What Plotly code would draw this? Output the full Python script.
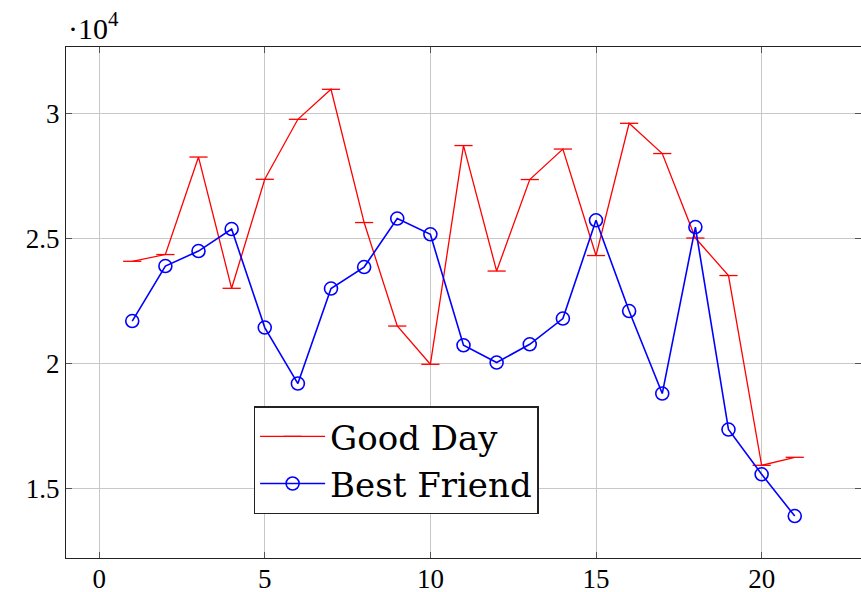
import plotly.graph_objects as go

x_vals = list(range(1, 22))
good_day = [24100, 24370, 28270, 23020, 27380, 29780, 30980, 25650, 21510, 19980,
            28730, 23710, 27370, 28590, 24330, 29620, 28410, 25030, 23530, 15940, 16260]
best_friend = [21710, 23910, 24510, 25390, 21450, 19210, 23010, 23870, 25810, 25180,
               20740, 20050, 20780, 21810, 25740, 22110, 18810, 25470, 17370, 15580, 13910]

x_ticks = [0, 5, 10, 15, 20]
y_ticks = [15000, 20000, 25000, 30000]
y_tick_text = ["1.5", "2", "2.5", "3"]

FONT = "Liberation Serif"

fig = go.Figure()
fig.add_trace(go.Scatter(
    x=x_vals, y=good_day, name="Good Day", mode="lines+markers",
    line=dict(color="#ff0000", width=1.3),
    marker=dict(symbol="line-ew", size=13, line=dict(color="#ff0000", width=1.3)),
))
fig.add_trace(go.Scatter(
    x=x_vals, y=best_friend, name="Best Friend", mode="lines+markers",
    line=dict(color="#0000ff", width=1.6),
    marker=dict(symbol="circle-open", size=13, color="#0000ff",
                line=dict(color="#0000ff", width=1.6)),
))

fig.update_layout(
    width=861, height=592,
    margin=dict(l=66.4, r=0, t=46.7, b=34.3, autoexpand=False),
    paper_bgcolor="white", plot_bgcolor="white",
    font=dict(family=FONT, size=27, color="black"),
    showlegend=True,
    legend=dict(
        x=0.236, y=0.297, xanchor="left", yanchor="top",
        bgcolor="white", bordercolor="#222222", borderwidth=1.5,
        font=dict(family="DejaVu Serif", size=34, color="black"),
        itemwidth=65, tracegroupgap=0,
    ),
    xaxis=dict(
        range=[-1, 23], tickvals=x_ticks, ticks="inside", ticklen=6,
        tickcolor="#555555", showgrid=True, gridcolor="#c8c8c8", gridwidth=1,
        showline=True, linecolor="#222222", linewidth=1.3, mirror="ticks",
        zeroline=False, tickfont=dict(family=FONT, size=27), automargin=False,
        ticklabelstandoff=-4,
    ),
    yaxis=dict(
        range=[12232, 32672], tickvals=y_ticks, ticktext=y_tick_text,
        ticks="inside", ticklen=6, tickcolor="#555555",
        showgrid=True, gridcolor="#c8c8c8", gridwidth=1,
        showline=True, linecolor="#222222", linewidth=1.3, mirror="ticks",
        zeroline=False, tickfont=dict(family=FONT, size=27), automargin=False,
    ),
    annotations=[dict(
        text="·10<sup>4</sup>", xref="paper", yref="paper",
        x=0.0, y=1.0, xanchor="left", yanchor="bottom", yshift=0,
        showarrow=False, font=dict(family=FONT, size=30, color="black"),
    )],
)

fig.write_html("out.html", config={"displayModeBar": False},
               post_script="document.body.style.margin='0';document.body.style.overflow='hidden';")
